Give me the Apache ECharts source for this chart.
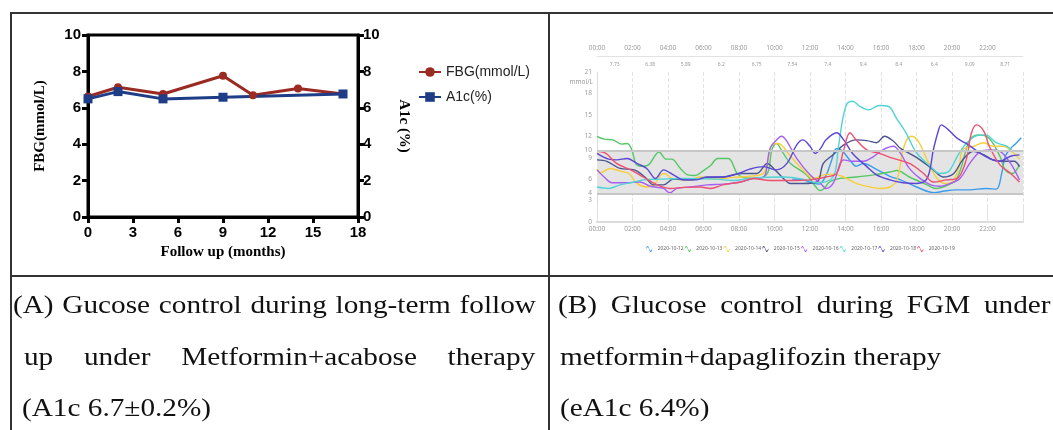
<!DOCTYPE html>
<html><head><meta charset="utf-8">
<script src="https://cdn.jsdelivr.net/npm/echarts@6/dist/echarts.min.js"></script>
<style>
html,body{margin:0;padding:0;background:#fff;}
#wrap{position:relative;width:1053px;height:430px;overflow:hidden;background:#fff;}
#chart{position:absolute;left:0;top:0;width:1053px;height:430px;}
.ln{position:absolute;background:#333;}
.cap{position:absolute;font-family:'Liberation Serif','Times New Roman',serif;font-size:25px;line-height:25px;color:#111;white-space:nowrap;transform-origin:0 0;transform:scaleX(1.17);}
.just{text-align:justify;text-align-last:justify;white-space:normal;}
</style></head>
<body>
<div id="wrap">
  <div id="chart"></div>
  <div class="ln" style="left:10px;top:12px;width:1043px;height:2px;"></div>
  <div class="ln" style="left:10px;top:12px;width:2px;height:418px;"></div>
  <div class="ln" style="left:548px;top:12px;width:2px;height:418px;"></div>
  <div class="ln" style="left:10px;top:275px;width:1043px;height:2px;"></div>
  <div class="cap just" style="left:13px;top:292px;width:447px;">(A) Gucose control during long-term follow</div>
  <div class="cap just" style="left:24px;top:344px;width:437px;">up under Metformin+acabose therapy</div>
  <div class="cap" style="left:22px;top:395px;">(A1c 6.7±0.2%)</div>
  <div class="cap just" style="left:558px;top:292px;width:421px;">(B) Glucose control during FGM under</div>
  <div class="cap" style="left:560px;top:344px;">metformin+dapaglifozin therapy</div>
  <div class="cap" style="left:560px;top:395px;">(eA1c 6.4%)</div>
</div>
<script>
// ---- Panel A data ----
const fbgMonths = [0, 2, 5, 9, 11, 14, 17];
const fbgValues = [6.62, 7.13, 6.76, 7.76, 6.69, 7.06, 6.76];
const a1cMonths = [0, 2, 5, 9, 17];
const a1cValues = [6.49, 6.89, 6.49, 6.58, 6.76];

// ---- Panel B data ----
const dates = ['2020-10-12','2020-10-13','2020-10-14','2020-10-15','2020-10-16','2020-10-17','2020-10-18','2020-10-19'];
const timeLabels = ['00:00','02:00','04:00','06:00','08:00','10:00','12:00','14:00','16:00','18:00','20:00','22:00'];
const blockAvg = ['7.73','6.38','5.89','6.2','6.75','7.54','7.4','9.4','8.4','6.4','9.09','8.71'];
const glucoseTicks = [0, 3, 4, 6, 9, 10, 12, 15, 18, 21];
const targetRange = [4, 10];

const g1012 = [[11.0,6.0],[11.6,5.9],[12.0,5.6],[12.5,5.3],[12.9,6.5],[13.2,8.5],[13.5,10.3],[13.8,10.0],[14.3,8.5],[14.6,7.8],[15.0,8.2],[15.8,7.3],[16.5,6.4],[17.1,5.9],[18.0,4.9],[19.0,4.1],[19.5,4.3],[20.2,4.5],[21.0,4.5],[21.9,4.7],[22.5,4.6],[22.8,6.8],[23.0,9.2],[23.3,10.3],[23.6,11.0],[23.9,11.8]];
const g1013 = [[0,12.0],[0.4,11.6],[0.9,11.5],[1.4,10.9],[1.7,11.0],[1.95,10.2],[2.2,8.1],[2.5,7.8],[2.9,8.0],[3.5,9.8],[3.9,8.8],[4.2,8.8],[4.7,7.5],[5.1,6.6],[5.5,6.5],[6.0,7.2],[6.4,7.9],[6.8,8.9],[7.4,8.9],[7.9,6.8],[8.3,6.2],[9.0,6.1],[9.6,6.8],[9.85,10.1],[10.1,11.0],[10.5,9.6],[10.9,8.2],[11.8,6.6],[12.3,5.0],[12.55,4.4],[12.8,4.7],[13.1,5.6],[13.7,6.1],[14.6,6.3],[15.6,6.6],[16.5,7.0],[16.9,7.2],[17.6,6.3],[18.6,5.2],[19.1,4.7],[19.8,5.2],[20.2,5.8],[20.5,7.5],[21.0,11.5],[21.5,12.2],[22.1,11.7],[22.7,9.2],[23.0,7.3],[23.4,6.8],[23.8,8.0]];
const g1014 = [[0,7.4],[0.2,6.9],[0.75,7.5],[1.4,7.05],[1.8,6.8],[2.25,5.4],[2.8,4.9],[3.2,5.2],[3.6,6.6],[3.8,6.8],[4.3,6.0],[5.25,5.9],[5.8,6.3],[6.75,6.0],[7.7,6.25],[8.6,6.4],[9.4,6.9],[9.85,10.8],[10.2,11.0],[10.9,9.2],[11.6,7.3],[12.2,6.1],[12.75,6.6],[13.3,6.7],[13.9,6.3],[14.6,5.4],[15.4,4.9],[15.9,4.7],[16.5,4.9],[16.9,5.9],[17.3,10.6],[17.7,12.0],[18.1,11.3],[18.6,8.7],[19.1,6.3],[19.6,5.4],[20.0,5.6],[20.4,7.75],[20.6,10.1],[21.2,10.6],[21.8,11.1],[22.3,10.6],[22.9,10.6],[23.5,9.6],[23.8,8.8]];
const g1015 = [[0,8.7],[0.55,8.5],[1.3,7.5],[2.1,7.3],[2.7,6.3],[3.2,5.2],[3.75,5.2],[4.3,6.0],[5.25,5.9],[6.2,6.25],[7.1,6.3],[8.1,6.8],[9.0,6.8],[9.6,8.2],[9.95,7.5],[10.5,6.1],[10.9,5.4],[11.6,5.4],[12.4,5.6],[12.75,8.2],[13.3,9.4],[13.9,10.8],[14.6,11.5],[15.2,11.4],[15.75,11.1],[16.2,12.0],[16.7,11.3],[17.1,10.3],[17.6,9.6],[18.2,8.7],[18.95,7.3],[19.5,6.3],[20.1,6.8],[20.6,8.7],[21.2,9.9],[21.8,9.4],[22.3,8.7],[22.9,8.5],[23.5,8.5],[23.8,7.75]];
const g1016 = [[0,7.3],[0.4,6.3],[0.85,5.5],[1.7,5.5],[2.4,5.6],[3.0,5.0],[3.75,4.7],[4.1,4.1],[4.5,4.7],[5.25,4.9],[6.2,5.2],[7.1,5.3],[8.1,5.6],[8.8,6.1],[9.4,6.3],[9.75,10.3],[10.2,11.7],[10.4,12.0],[10.7,11.3],[11.25,8.9],[12.0,6.6],[12.6,5.4],[12.9,4.7],[13.3,5.4],[13.9,8.7],[14.35,8.5],[15.0,8.5],[15.6,9.2],[16.1,10.1],[16.7,10.6],[17.1,9.6],[17.6,7.5],[18.2,6.1],[18.8,5.2],[19.3,5.0],[19.9,5.4],[20.45,6.1],[21.0,8.2],[21.6,9.9],[22.1,10.1],[22.7,9.9],[23.3,8.2],[23.8,5.9]];
const g1017 = [[0,4.9],[0.65,4.7],[1.3,5.2],[2.1,5.6],[2.6,5.9],[3.6,6.0],[4.9,6.1],[6.75,6.0],[7.7,5.8],[8.6,6.1],[10.5,6.3],[11.6,6.0],[12.4,5.5],[13.3,6.3],[13.6,10.5],[13.85,14.5],[14.1,16.6],[14.4,16.9],[14.8,16.2],[15.3,15.7],[15.9,16.3],[16.4,16.2],[16.9,14.4],[17.4,12.5],[18.0,9.7],[18.8,7.75],[19.3,6.8],[19.8,7.05],[20.3,9.2],[20.8,11.0],[21.4,12.1],[21.9,12.2],[22.5,11.1],[23.1,10.6],[23.5,9.9],[23.9,9.9]];
const g1018 = [[0,9.6],[0.65,8.8],[1.1,8.7],[1.7,8.9],[2.25,8.2],[2.8,7.5],[3.3,6.1],[3.75,7.3],[4.3,6.6],[4.9,5.9],[5.6,5.9],[6.2,6.3],[7.1,6.3],[8.1,6.9],[8.6,7.4],[9.4,7.75],[10.1,7.3],[10.7,8.2],[11.25,10.8],[11.6,11.5],[12.0,10.6],[12.3,9.6],[12.6,10.3],[12.9,11.5],[13.5,12.5],[13.9,11.5],[14.4,9.6],[15.2,7.75],[15.75,6.6],[16.5,5.9],[17.25,5.5],[18.0,5.4],[18.6,6.1],[18.95,10.1],[19.2,12.5],[19.4,13.6],[19.8,12.9],[20.3,11.7],[20.8,11.0],[21.6,9.6],[22.1,8.9],[22.7,8.5],[23.3,9.2],[23.8,9.4]];
const g1019 = [[0,9.9],[0.5,9.6],[1.1,8.2],[1.9,7.3],[2.6,6.3],[3.4,5.2],[4.1,4.7],[4.9,4.85],[5.8,4.9],[6.4,4.7],[7.1,5.2],[8.1,5.6],[8.8,6.1],[9.75,5.8],[10.9,5.8],[12.0,5.9],[12.9,6.3],[13.5,6.8],[13.9,10.1],[14.25,12.5],[14.6,11.5],[15.2,10.1],[15.9,9.6],[16.7,8.9],[17.6,8.2],[18.4,6.8],[18.95,5.6],[19.7,5.9],[20.3,6.1],[20.8,8.7],[21.1,12.5],[21.4,13.6],[21.8,12.7],[22.1,10.6],[22.7,8.0],[23.3,6.8],[23.8,5.6]];
const cgmDays = [g1012, g1013, g1014, g1015, g1016, g1017, g1018, g1019];

const dayColors = ['#3a9cf0','#55c766','#f6cf3a','#4b5391','#a65ff2','#4fd3d6','#5b46d6','#f04f70'];
const waveIcon = 'path://M0,6 C2,0 4,0 6,6 C8,12 10,12 12,6 L12,8.5 C10,14.5 8,14.5 6,8.5 C4,2.5 2,2.5 0,8.5 Z';

const chart = echarts.init(document.getElementById('chart'), null, {renderer:'canvas'});
const boldSans = {fontFamily:'Liberation Sans, Arial, sans-serif', fontWeight:'bold', fontSize:15, color:'#000'};
const greyLab = {fontFamily:'Noto Sans, sans-serif', fontSize:6.5, color:'#9a9a9a'};

const cgmSeries = cgmDays.map((d, i) => ({
  name: dates[i], type:'line', xAxisIndex:1, yAxisIndex:2, data:d,
  smooth:0.35, showSymbol:false, symbol:'none', z:3,
  lineStyle:{width:1.4, color:dayColors[i]}, itemStyle:{color:dayColors[i]}
}));

const option = {
  animation:false,
  backgroundColor:'transparent',
  textStyle:{fontFamily:'Liberation Sans, Arial, sans-serif'},
  grid:[
    {left:88, top:35, width:270, height:182, show:true, borderColor:'#000', borderWidth:3, backgroundColor:'transparent'},
    {left:597, top:72, width:426, height:150, show:false}
  ],
  legend:[
    {data:['FBG(mmol/L)','A1c(%)'], orient:'vertical', left:413, top:60, itemWidth:22, itemHeight:12, itemGap:11,
     textStyle:{fontSize:14, color:'#222', fontFamily:'Liberation Sans, Arial, sans-serif'}},
    {data:dates, orient:'horizontal', left:641, top:241, itemWidth:7, itemHeight:6, itemGap:1, icon:waveIcon,
     textStyle:{fontSize:5, color:'#666', fontFamily:'Noto Sans, sans-serif'}}
  ],
  xAxis:[
    {gridIndex:0, type:'value', min:0, max:18, interval:3,
     axisLine:{show:true, onZero:false, lineStyle:{color:'#000', width:3}},
     axisTick:{show:true, length:6, lineStyle:{color:'#000', width:3}},
     axisLabel:Object.assign({margin:8}, boldSans), splitLine:{show:false},
     name:'Follow up (months)', nameLocation:'middle', nameGap:28,
     nameTextStyle:{fontFamily:'Liberation Serif, Times New Roman, serif', fontWeight:'bold', fontSize:15, color:'#000'}},
    {gridIndex:1, type:'value', min:0, max:24, interval:2,
     axisLine:{show:true, onZero:false, lineStyle:{color:'#cfcfcf', width:1}},
     axisTick:{show:false},
     axisLabel:Object.assign({margin:4, formatter:v => timeLabels[v/2] || ''}, greyLab),
     splitLine:{show:true, lineStyle:{type:'dashed', color:'#e2e2e2', width:1}}},
    {gridIndex:1, type:'value', min:0, max:24, interval:2, position:'top', offset:16,
     axisLine:{show:true, onZero:false, lineStyle:{color:'#e2e2e2', width:1}},
     axisTick:{show:false},
     axisLabel:Object.assign({margin:4, formatter:v => timeLabels[v/2] || ''}, greyLab),
     splitLine:{show:false}},
    {gridIndex:1, type:'category', data:blockAvg, position:'top', boundaryGap:true,
     axisLine:{show:true, lineStyle:{color:'#dcdcdc', width:2}},
     axisTick:{show:true, interval:0, length:16, lineStyle:{type:'dashed', color:'#e2e2e2', width:1}},
     axisLabel:{interval:0, margin:5, fontSize:5, color:'#9a9a9a', fontFamily:'Noto Sans, sans-serif'},
     splitLine:{show:false}}
  ],
  yAxis:[
    {gridIndex:0, type:'value', min:0, max:10, interval:2,
     axisLine:{show:true, lineStyle:{color:'#000', width:3}},
     axisTick:{show:true, length:6, lineStyle:{color:'#000', width:3}},
     axisLabel:Object.assign({margin:7}, boldSans), splitLine:{show:false},
     name:'FBG(mmol/L)', nameLocation:'middle', nameGap:40,
     nameTextStyle:{fontFamily:'Liberation Serif, Times New Roman, serif', fontWeight:'bold', fontSize:15, color:'#000'}},
    {gridIndex:0, type:'value', min:0, max:10, interval:2, position:'right',
     axisLine:{show:true, lineStyle:{color:'#000', width:3}},
     axisTick:{show:true, length:6, lineStyle:{color:'#000', width:3}},
     axisLabel:Object.assign({margin:5}, boldSans), splitLine:{show:false},
     name:'A1c (%)', nameLocation:'middle', nameGap:38, nameRotate:-90,
     nameTextStyle:{fontFamily:'Liberation Serif, Times New Roman, serif', fontWeight:'bold', fontSize:15, color:'#000'}},
    {gridIndex:1, type:'value', min:0, max:21, interval:1,
     axisLine:{show:true, lineStyle:{color:'#dcdcdc', width:1}},
     axisTick:{show:false}, splitLine:{show:false},
     axisLabel:Object.assign({margin:5, formatter:v => glucoseTicks.includes(v) ? String(v) : ''}, greyLab),
     name:'mmol/L', nameLocation:'end', nameGap:-10,
     nameTextStyle:{fontFamily:'Noto Sans, sans-serif', fontSize:6.5, color:'#9a9a9a', align:'right', verticalAlign:'middle', padding:[0,4,0,0]}}
  ],
  series:[
    {name:'FBG(mmol/L)', type:'line', xAxisIndex:0, yAxisIndex:0,
     data:fbgMonths.map((m,i) => [m, fbgValues[i]]),
     symbol:'circle', symbolSize:8, lineStyle:{width:3, color:'#9b2a23'}, itemStyle:{color:'#9b2a23'}},
    {name:'A1c(%)', type:'line', xAxisIndex:0, yAxisIndex:1,
     data:a1cMonths.map((m,i) => [m, a1cValues[i]]),
     symbol:'rect', symbolSize:9, lineStyle:{width:3, color:'#1f3d86'}, itemStyle:{color:'#1f3d86'}},
    {name:'target', type:'line', xAxisIndex:1, yAxisIndex:2, data:[], z:1, silent:true,
     markArea:{silent:true, itemStyle:{color:'#e4e4e4'}, data:[[{yAxis:targetRange[0]},{yAxis:targetRange[1]}]]},
     markLine:{silent:true, symbol:'none', label:{show:false}, lineStyle:{color:'#c6c6c6', type:'solid', width:2},
       data:[{yAxis:targetRange[0]},{yAxis:targetRange[1]}]}}
  ].concat(cgmSeries)
};
chart.setOption(option);
</script>
</body></html>
